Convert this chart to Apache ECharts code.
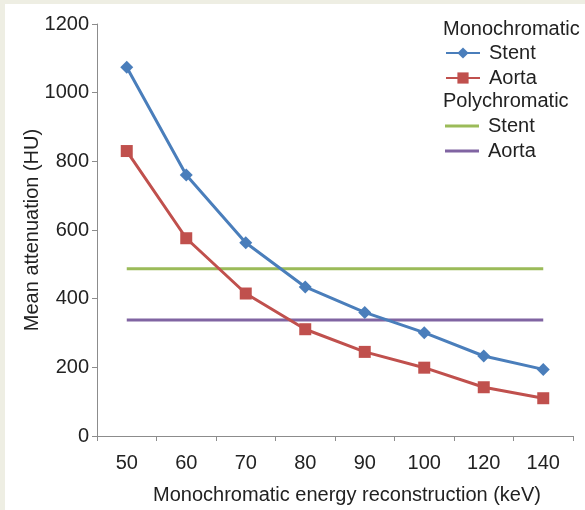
<!DOCTYPE html>
<html>
<head>
<meta charset="utf-8">
<script src="https://cdn.jsdelivr.net/npm/echarts@6/dist/echarts.min.js"></script>
<style>
html,body{margin:0;padding:0;background:#eeeee3;width:585px;height:510px;overflow:hidden;}
#c{position:absolute;left:5px;top:4px;width:580px;height:506px;background:#fff;}
</style>
</head>
<body>
<div id="c"></div>
<script>
var categories = ['50','60','70','80','90','100','120','140'];
var monoStent = [1074, 760, 563, 434, 360, 301, 233, 194];
var monoAorta = [830, 576, 415, 311, 245, 199, 142, 110];
var polyStent = [487, 487, 487, 487, 487, 487, 487, 487];
var polyAorta = [338, 338, 338, 338, 338, 338, 338, 338];
var yTicks = [0, 200, 400, 600, 800, 1000, 1200];

var FONT = 'Liberation Sans, Arial, sans-serif';
var TXT = '#222';
var AX = '#8c8c8c';
var nameMap = {'Mono Stent':'Stent','Mono Aorta':'Aorta','Poly Stent':'Stent','Poly Aorta':'Aorta'};
var LINE_ICON = 'path://M0,0H34V3H0Z';

var chart = echarts.init(document.getElementById('c'), null, {renderer:'canvas'});
var legendCommon = {
  orient:'vertical', left:435, itemWidth:34, itemHeight:14, itemGap:5,
  textStyle:{fontFamily:FONT, fontSize:20, color:TXT, lineHeight:20, padding:[0,0,0,4]},
  formatter:function(n){return nameMap[n];},
  selectedMode:false
};
chart.setOption({
  animation:false,
  textStyle:{fontFamily:FONT},
  title:[
    {text:'Monochromatic', left:438, top:15, padding:0, textStyle:{fontFamily:FONT, fontSize:20, fontWeight:'normal', color:TXT}},
    {text:'Polychromatic', left:438, top:87, padding:0, textStyle:{fontFamily:FONT, fontSize:20, fontWeight:'normal', color:TXT}}
  ],
  legend:[
    Object.assign({}, legendCommon, {top:34, data:['Mono Stent','Mono Aorta']}),
    Object.assign({}, legendCommon, {top:107, data:[
      {name:'Poly Stent', icon:LINE_ICON, itemStyle:{color:'#9bbb59'}},
      {name:'Poly Aorta', icon:LINE_ICON, itemStyle:{color:'#8064a2'}}
    ]})
  ],
  grid:{left:92, right:12, top:20, bottom:68, containLabel:false},
  xAxis:{
    type:'category', data:categories, boundaryGap:true,
    axisLine:{lineStyle:{color:AX, width:1}},
    axisTick:{show:true, length:5, lineStyle:{color:AX}},
    axisLabel:{fontFamily:FONT, fontSize:20, color:TXT, margin:17},
    name:'Monochromatic energy reconstruction (keV)', nameLocation:'middle', nameGap:49,
    nameMoveOverlap:false,
    nameTextStyle:{fontFamily:FONT, fontSize:20, color:TXT, padding:[0,0,0,24]}
  },
  yAxis:{
    type:'value', min:0, max:1200, interval:200,
    axisLine:{show:true, lineStyle:{color:AX, width:1}},
    axisTick:{show:true, length:5, lineStyle:{color:AX}},
    splitLine:{show:false},
    axisLabel:{fontFamily:FONT, fontSize:20, color:TXT, margin:8,
      formatter:function(v){return yTicks.indexOf(v)>=0 ? String(v) : '';}},
    name:'Mean attenuation (HU)', nameLocation:'middle', nameGap:55,
    nameMoveOverlap:false,
    nameTextStyle:{fontFamily:FONT, fontSize:20, color:TXT}
  },
  series:[
    {name:'Mono Stent', type:'line', data:monoStent, symbol:'diamond', symbolSize:13,
      lineStyle:{color:'#4a7ebb', width:3}, itemStyle:{color:'#4a7ebb'}, z:4},
    {name:'Mono Aorta', type:'line', data:monoAorta, symbol:'rect', symbolSize:12,
      lineStyle:{color:'#c0504d', width:3}, itemStyle:{color:'#c0504d'}, z:4},
    {name:'Poly Stent', type:'line', data:polyStent, symbol:'none', showSymbol:false,
      lineStyle:{color:'#9bbb59', width:3}, itemStyle:{color:'#9bbb59'}, z:3},
    {name:'Poly Aorta', type:'line', data:polyAorta, symbol:'none', showSymbol:false,
      lineStyle:{color:'#8064a2', width:3}, itemStyle:{color:'#8064a2'}, z:3}
  ]
});
</script>
</body>
</html>
